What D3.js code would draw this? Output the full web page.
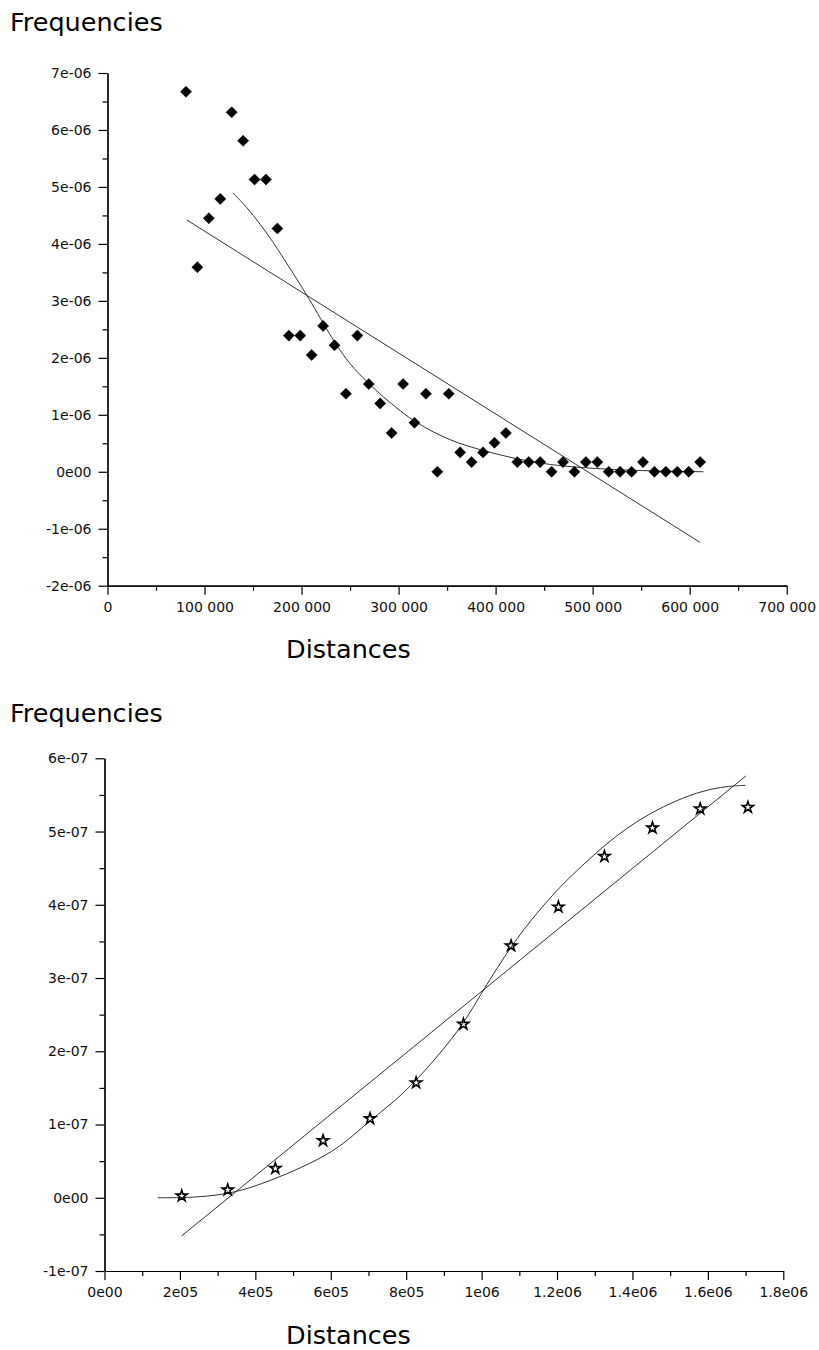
<!DOCTYPE html>
<html>
<head>
<meta charset="utf-8">
<script src="https://cdn.jsdelivr.net/npm/d3@7"></script>
<style>
  body { margin: 0; background: #fff; }
  svg { display: block; font-family: "DejaVu Sans", sans-serif; }
  .axis path, .axis line { stroke: #000; stroke-width: 1.2; }
  .axis text { font-size: 14px; fill: #111; font-family: "DejaVu Sans", sans-serif; }
  .title { font-size: 25.5px; fill: #000; }
  .fit { fill: none; stroke: #333; stroke-width: 1; }
</style>
</head>
<body>
<div class="graph"></div>
<script>
// top chart: frequencies against distances (diamonds)
var topDist = [80900, 92675, 104450, 116225, 128000, 139775, 151550, 163325, 175100, 186875,
    198650, 210425, 222200, 233975, 245750, 257525, 269300, 281075, 292850, 304625,
    316400, 328175, 339950, 351725, 363500, 375275, 387050, 398825, 410600, 422375,
    434150, 445925, 457700, 469475, 481250, 493025, 504800, 516575, 528350, 540125,
    551900, 563675, 575450, 587225, 599000, 610775];
var topFreq = [6.67e-6, 3.59e-6, 4.45e-6, 4.79e-6, 6.31e-6, 5.81e-6, 5.13e-6, 5.13e-6, 4.27e-6, 2.39e-6,
    2.39e-6, 2.05e-6, 2.56e-6, 2.22e-6, 1.37e-6, 2.39e-6, 1.54e-6, 1.20e-6, 0.68e-6, 1.54e-6,
    0.86e-6, 1.37e-6, 0, 1.37e-6, 0.34e-6, 0.17e-6, 0.34e-6, 0.51e-6, 0.68e-6, 0.17e-6,
    0.17e-6, 0.17e-6, 0, 0.17e-6, 0, 0.17e-6, 0.17e-6, 0, 0, 0,
    0.17e-6, 0, 0, 0, 0, 0.17e-6];
var topLineDist = [81700, 610800];
var topLineFreq = [4.42e-6, -1.24e-6];
var topCurveDist = [129400, 143500, 157200, 170900, 181200, 207000, 232800, 250000, 267200, 284300,
    301500, 318800, 353100, 387400, 421900, 456200, 490500, 538700, 614200];
var topCurveFreq = [4.89e-6, 4.65e-6, 4.35e-6, 4.03e-6, 3.75e-6, 3.07e-6, 2.29e-6, 1.88e-6, 1.58e-6, 1.31e-6,
    1.07e-6, 0.85e-6, 0.54e-6, 0.37e-6, 0.22e-6, 0.12e-6, 0.07e-6, 0.02e-6, 0];
var topXTicks = [0, 100000, 200000, 300000, 400000, 500000, 600000, 700000];
var topXLabels = ['0', '100 000', '200 000', '300 000', '400 000', '500 000', '600 000', '700 000'];
var topYTicks = [-2e-6, -1e-6, 0, 1e-6, 2e-6, 3e-6, 4e-6, 5e-6, 6e-6, 7e-6];
var topYLabels = ['-2e-06', '-1e-06', '0e00', '1e-06', '2e-06', '3e-06', '4e-06', '5e-06', '6e-06', '7e-06'];

// bottom chart: frequencies against distances (stars)
var botDist = [204800, 326800, 453000, 579600, 704200, 826300, 951700, 1078200, 1203700, 1325700,
    1453000, 1579600, 1706100];
var botFreq = [2.5e-9, 1.07e-8, 4.0e-8, 7.8e-8, 1.08e-7, 1.57e-7, 2.37e-7, 3.44e-7, 3.97e-7, 4.66e-7,
    5.05e-7, 5.31e-7, 5.33e-7];
var botLineDist = [204800, 1701000];
var botLineFreq = [-0.52e-7, 5.76e-7];
var botCurveDist = [141100, 220000, 293100, 350000, 412500, 500800, 589400, 650000, 704200, 766000,
    826300, 889900, 951700, 1004800, 1078200, 1146400, 1208200, 1270000, 1323100, 1385100,
    1447000, 1517800, 1588300, 1650400, 1698900];
var botCurveFreq = [0, 0, 0.03e-7, 0.08e-7, 0.18e-7, 0.36e-7, 0.58e-7, 0.80e-7, 1.06e-7, 1.30e-7,
    1.60e-7, 1.97e-7, 2.37e-7, 2.84e-7, 3.44e-7, 3.89e-7, 4.25e-7, 4.55e-7, 4.80e-7, 5.05e-7,
    5.25e-7, 5.43e-7, 5.56e-7, 5.62e-7, 5.63e-7];
var botXTicks = [0, 200000, 400000, 600000, 800000, 1000000, 1200000, 1400000, 1600000, 1800000];
var botXLabels = ['0e00', '2e05', '4e05', '6e05', '8e05', '1e06', '1.2e06', '1.4e06', '1.6e06', '1.8e06'];
var botYTicks = [-1e-7, 0, 1e-7, 2e-7, 3e-7, 4e-7, 5e-7, 6e-7];
var botYLabels = ['-1e-07', '0e00', '1e-07', '2e-07', '3e-07', '4e-07', '5e-07', '6e-07'];

var svg = d3.select('.graph').append('svg')
    .attr('width', 819)
    .attr('height', 1350);

var drawChart = function(cfg) {
    var x = d3.scaleLinear().domain(cfg.xDomain).range(cfg.xRange);
    var y = d3.scaleLinear().domain(cfg.yDomain).range(cfg.yRange);

    // minor ticks first, then major axis on top
    svg.append('g')
        .attr('class', 'axis')
        .attr('transform', 'translate(0,' + cfg.yRange[0] + ')')
        .call(d3.axisBottom(x).tickValues(cfg.xMinor).tickSize(5).tickSizeOuter(0).tickFormat(''));
    svg.append('g')
        .attr('class', 'axis')
        .attr('transform', 'translate(0,' + cfg.yRange[0] + ')')
        .call(d3.axisBottom(x).tickValues(cfg.xTicks).tickSize(9).tickSizeOuter(0).tickPadding(7)
            .tickFormat(function(d, i) { return cfg.xLabels[i]; }));

    svg.append('g')
        .attr('class', 'axis')
        .attr('transform', 'translate(' + cfg.xRange[0] + ',0)')
        .call(d3.axisLeft(y).tickValues(cfg.yMinor).tickSize(5).tickSizeOuter(0).tickFormat(''));
    svg.append('g')
        .attr('class', 'axis')
        .attr('transform', 'translate(' + cfg.xRange[0] + ',0)')
        .call(d3.axisLeft(y).tickValues(cfg.yTicks).tickSize(9).tickSizeOuter(0).tickPadding(7)
            .tickFormat(function(d, i) { return cfg.yLabels[i]; }));

    var line = d3.line()
        .x(function(d) { return x(d[0]); })
        .y(function(d) { return y(d[1]); });

    svg.append('path')
        .attr('class', 'fit')
        .attr('d', line(d3.zip(cfg.lineDist, cfg.lineFreq)));

    svg.append('path')
        .attr('class', 'fit')
        .attr('d', line.curve(d3.curveBasis)(d3.zip(cfg.curveDist, cfg.curveFreq)));

    svg.append('g')
      .selectAll('path')
      .data(d3.zip(cfg.dist, cfg.freq))
      .enter()
      .append('path')
        .attr('d', cfg.symbol)
        .attr('transform', function(d) {
            return 'translate(' + x(d[0]) + ',' + y(d[1]) + ')' + cfg.rotate;
        })
        .attr('fill', cfg.fill)
        .attr('stroke', '#000')
        .attr('stroke-width', cfg.strokeWidth);

    svg.append('text')
        .attr('class', 'title')
        .attr('x', 10)
        .attr('y', cfg.titleY)
        .text('Frequencies');
    svg.append('text')
        .attr('class', 'title')
        .attr('x', cfg.labelX)
        .attr('y', cfg.labelY)
        .text('Distances');
};

drawChart({
    xDomain: [0, 700000], xRange: [107.5, 786.7],
    yDomain: [-2e-6, 7e-6], yRange: [585.7, 73],
    xTicks: topXTicks, xLabels: topXLabels, xMinor: d3.range(50000, 700000, 100000),
    yTicks: topYTicks, yLabels: topYLabels, yMinor: d3.range(-1.5e-6, 7e-6, 1e-6),
    dist: topDist, freq: topFreq,
    lineDist: topLineDist, lineFreq: topLineFreq,
    curveDist: topCurveDist, curveFreq: topCurveFreq,
    symbol: d3.symbol().type(d3.symbolSquare).size(62)(),
    rotate: ' rotate(45)', fill: '#000', strokeWidth: 0.5,
    titleY: 30.5, labelX: 286, labelY: 657.5
});

drawChart({
    xDomain: [0, 1800000], xRange: [104.5, 783.3],
    yDomain: [-1e-7, 6e-7], yRange: [1271, 758.3],
    xTicks: botXTicks, xLabels: botXLabels, xMinor: d3.range(100000, 1800000, 200000),
    yTicks: botYTicks, yLabels: botYLabels, yMinor: d3.range(-0.5e-7, 6e-7, 1e-7),
    dist: botDist, freq: botFreq,
    lineDist: botLineDist, lineFreq: botLineFreq,
    curveDist: botCurveDist, curveFreq: botCurveFreq,
    symbol: d3.symbol().type(d3.symbolStar).size(38)(),
    rotate: '', fill: 'none', strokeWidth: 1.6,
    titleY: 722, labelX: 286, labelY: 1344
});
</script>
</body>
</html>
